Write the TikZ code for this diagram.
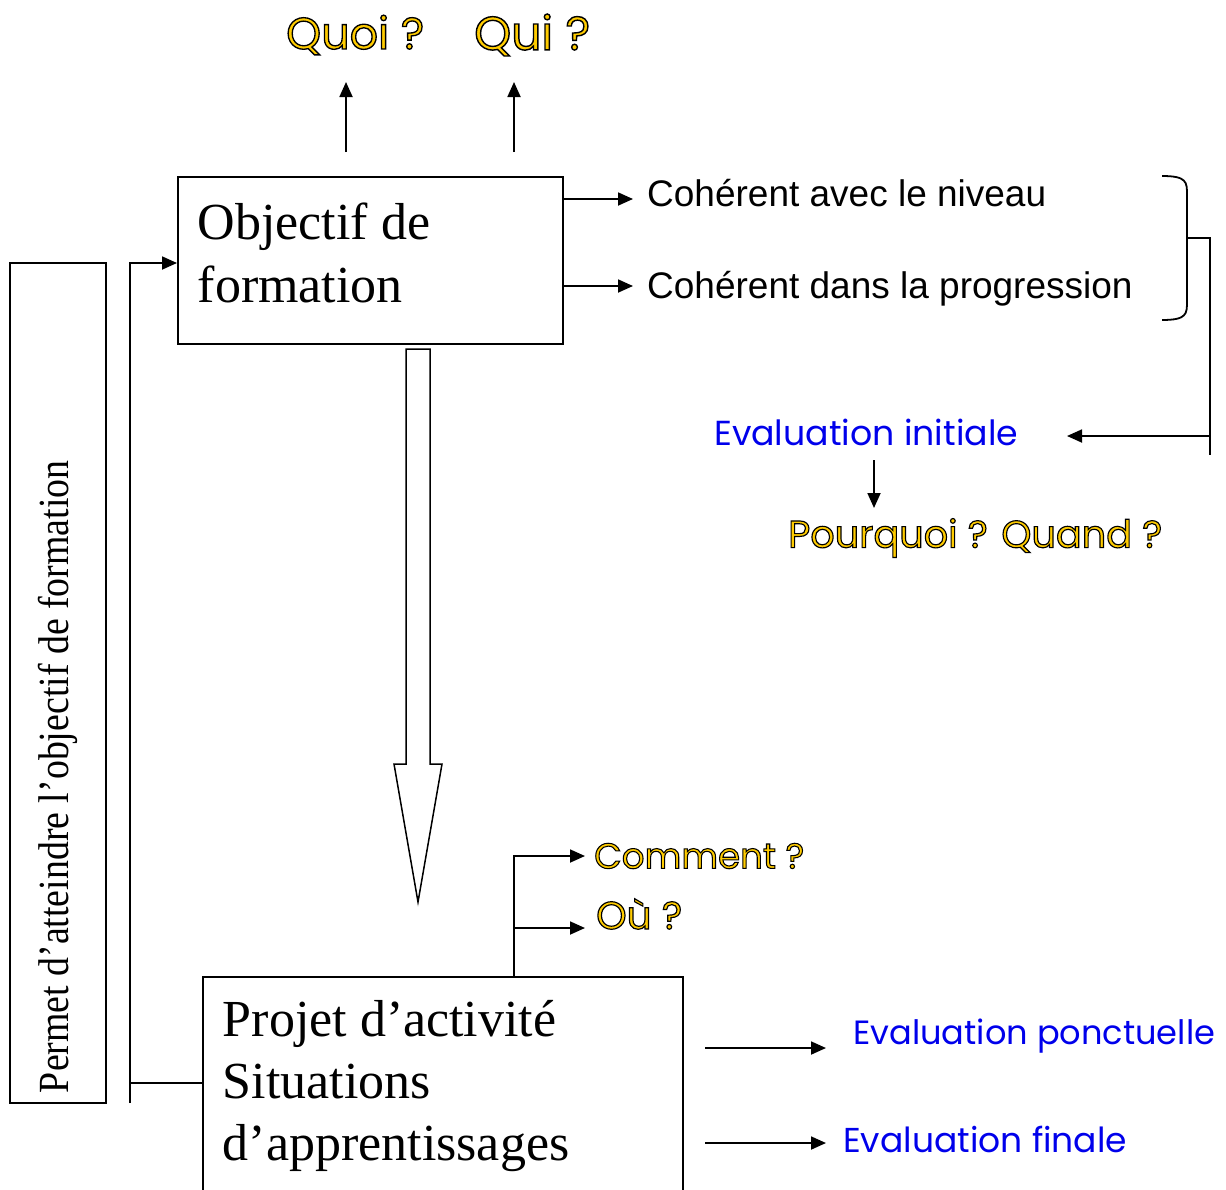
\documentclass[tikz,border=0pt]{standalone}
\usepackage{fontspec}
\setmainfont{Liberation Serif}
\newfontfamily\arialf{Liberation Sans}
\newfontfamily\comicf{Poppins}
\newfontfamily\narrowf[FakeStretch=0.88]{Liberation Serif}
\usetikzlibrary{arrows.meta}
\definecolor{gold}{RGB}{255,204,0}
\definecolor{evblue}{RGB}{0,0,235}
\newcommand{\outl}[1]{\special{pdf:literal direct 0 0 0 RG 2 Tr 1.2 w}#1\special{pdf:literal direct 0 Tr}}
\newcommand{\fitw}[2]{\resizebox{#1pt}{!}{#2}}
\tikzset{
  ln/.style={line width=1.8pt},
  arr/.style={line width=1.8pt,-{Triangle[length=15pt,width=13pt]}},
  boxn/.style={draw,line width=1.6pt,anchor=north west,align=flush left,inner xsep=20pt},
  qtxt/.style={anchor=west,inner sep=0pt,text=gold,font=\comicf\fontsize{40}{48}\selectfont},
  etxt/.style={anchor=west,inner sep=0pt,text=evblue,font=\comicf\fontsize{36}{44}\selectfont},
  ctxt/.style={anchor=west,inner sep=0pt,font=\arialf\fontsize{37}{44}\selectfont},
}
\begin{document}
\begin{tikzpicture}[x=1pt,y=-1pt]
\useasboundingbox (0,0) rectangle (1226,1189);
\clip (0,0) rectangle (1226,1189);
% boxes
\node[boxn,minimum width=385pt,minimum height=167pt,text width=345pt,font=\fontsize{52}{63}\selectfont] (obj) at (177,176) {Objectif de\\formation\rule[-16pt]{0pt}{0pt}};
\node[boxn,minimum width=480pt,text width=440pt,inner ysep=24pt,font=\fontsize{52}{62}\selectfont] (prj) at (202,976) {Projet d’activité\\Situations\\d’apprentissages};
\node[draw,line width=1.6pt,rotate=90,minimum width=840pt,minimum height=96pt,text width=820pt,align=flush left,inner sep=0pt,font=\narrowf\fontsize{43}{50}\selectfont] (perm) at (58,683) {Permet d’atteindre l’objectif de formation};
% question texts
\node[qtxt] (quoi) at (286,35) {\fitw{138}{\outl{Quoi ?}}};
\node[qtxt] (qui) at (474,35) {\fitw{116}{\outl{Qui ?}}};
\node[qtxt] (pq) at (788,538) {\fitw{374}{\outl{Pourquoi ? Quand ?}}};
\node[qtxt] (comment) at (594,856) {\fitw{210}{\outl{Comment ?}}};
\node[qtxt] (ou) at (596,914) {\fitw{86}{\outl{Où ?}}};
% blue texts
\node[etxt] (evi) at (714,432) {\fitw{304}{Evaluation initiale}};
\node[etxt] (evp) at (853,1036) {\fitw{362}{Evaluation ponctuelle}};
\node[etxt] (evf) at (843,1139) {\fitw{284}{Evaluation finale}};
% coherent texts
\node[ctxt] (coh1) at (647,193) {Cohérent avec le niveau};
\node[ctxt] (coh2) at (647,289) {Cohérent dans la progression};
% coordinates
\coordinate (u1a) at (346,152); \coordinate (u1b) at (346,82);
\coordinate (u2a) at (514,152); \coordinate (u2b) at (514,82);
\coordinate (b1) at (1162,176); \coordinate (b2) at (1162,320);
\coordinate (bm) at (1187,238); \coordinate (bt) at (1210,238);
\coordinate (bb) at (1210,455); \coordinate (ba) at (1210,436);
\coordinate (ea) at (1067,436);
\coordinate (d1) at (874,460); \coordinate (d2) at (874,508);
\coordinate (cm) at (514,856); \coordinate (cmb) at (514,928);
\coordinate (pa1) at (705,1048); \coordinate (pb1) at (826,1048);
\coordinate (pa2) at (705,1143); \coordinate (pb2) at (826,1143);
\coordinate (fl) at (130,1103); \coordinate (fj) at (130,1083);
% connectors
\draw[arr] (u1a) -- (u1b);
\draw[arr] (u2a) -- (u2b);
\draw[arr] ([yshift=-23pt]obj.north east) -- ([xshift=-14pt]coh1.west |- 0,199);
\draw[arr] ([yshift=-110pt]obj.north east) -- ([xshift=-14pt]coh2.west |- 0,286);
\draw[ln] (b1) .. controls (1187,176) and (1187,182) .. (1187,195) -- (1187,301) .. controls (1187,314) and (1187,320) .. (b2);
\draw[ln] (bm) -- (bt) -- (bb);
\draw[arr] (ba) -- (ea);
\draw[arr] (d1) -- (d2);
% hollow arrow
\draw[line width=1.5pt] (406,349) -- (430,349) -- (430,764) -- (442,764) -- (418,902) -- (394,764) -- (406,764) -- cycle;
% comment / ou
\draw[arr] ([xshift=312pt]prj.north west) -- (cm) -- ([xshift=-9pt]comment.west |- cm);
\draw[arr] (cmb) -- ([xshift=-11pt]ou.west |- cmb);
% evaluation arrows
\draw[arr] (pa1) -- (pb1);
\draw[arr] (pa2) -- (pb2);
% feedback loop
\draw[ln] (prj.west |- fj) -- (fj);
\draw[arr] (fl) |- (obj.west |- 0,263);
\end{tikzpicture}
\end{document}
